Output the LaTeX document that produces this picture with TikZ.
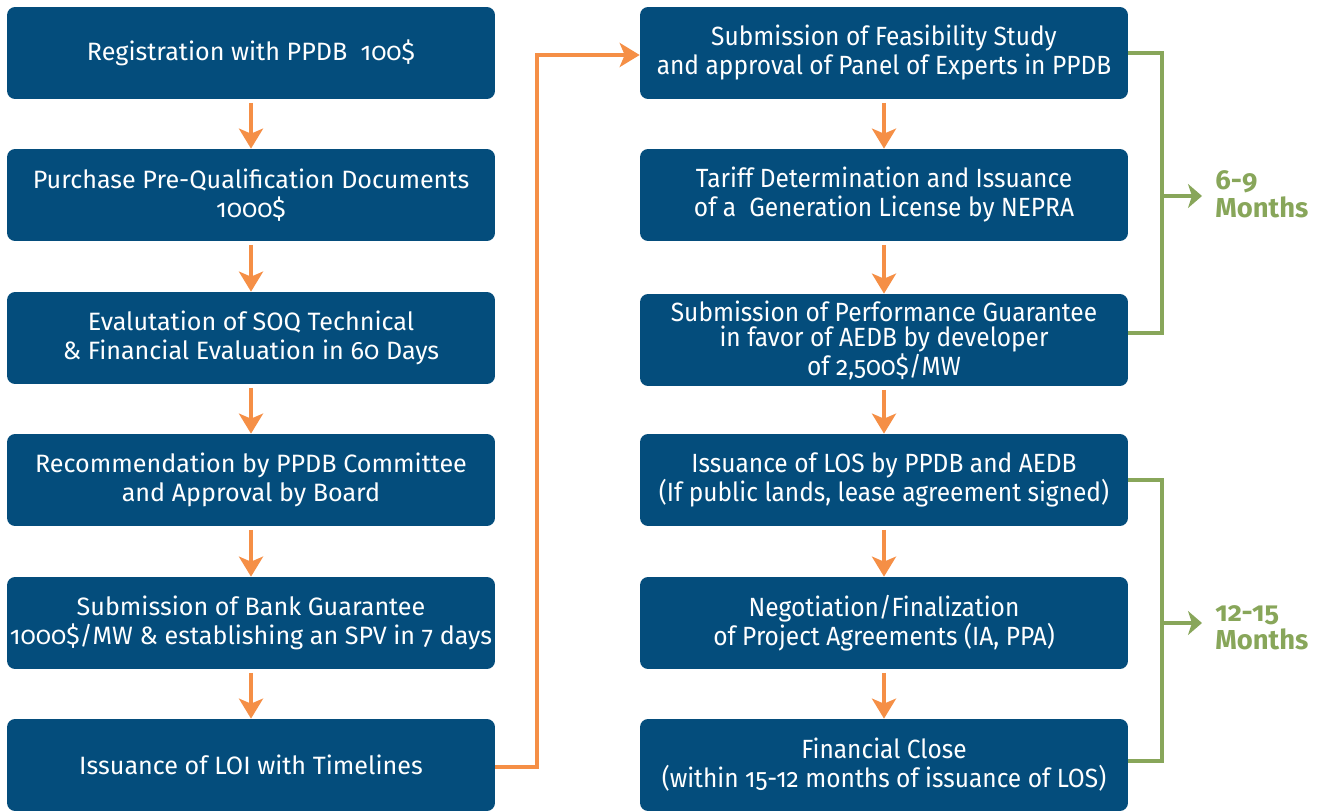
\documentclass[tikz,border=0pt]{standalone}
\usepackage{fontspec}
\setmainfont{Fira Sans}[Numbers=OldStyle]
\newfontfamily\condfont{Fira Sans}[Numbers=OldStyle,FakeStretch=0.93]
\usetikzlibrary{arrows.meta}
\definecolor{boxblue}{RGB}{4,77,124}
\definecolor{arrorange}{RGB}{245,143,70}
\definecolor{brgreen}{RGB}{136,166,90}
\tikzset{
  stepbox/.style={fill=boxblue, rounded corners=0.16cm, minimum width=9.76cm, minimum height=1.84cm,
    inner sep=0pt, text=white, align=center, font=\fontsize{14.3pt}{16.5pt}\selectfont},
  rbox/.style={stepbox, font=\condfont\fontsize{15pt}{16.5pt}\selectfont},
  oarrow/.style={draw=arrorange, line width=4pt*0.569, -{Stealth[length=20*0.569pt, width=24*0.569pt, inset=5*0.569pt]}, shorten <=2pt},
  gline/.style={draw=brgreen, line width=4pt*0.569},
  garrow/.style={draw=brgreen, line width=4pt*0.569, -{Stealth[length=14*0.569pt, width=24*0.569pt, inset=4*0.569pt]}},
  glabel/.style={text=brgreen, font=\bfseries\fontsize{15.6pt}{16pt}\selectfont, align=left, anchor=west, inner sep=0pt}
}
\begin{document}
\begin{tikzpicture}[x=0.02cm, y=-0.02cm]
\useasboundingbox (0,0) rectangle (1322,811);
% left column
\node[stepbox] (l1) at (251,53) {Registration with PPDB\ \ 100\$};
\node[stepbox] (l2) at (251,195) {Purchase Pre-Qualification Documents\\1000\$};
\node[stepbox] (l3) at (251,338) {Evalutation of SOQ Technical\\\& Financial Evaluation in 60 Days};
\node[stepbox] (l4) at (251,480) {Recommendation by PPDB Committee\\and Approval by Board};
\node[stepbox] (l5) at (251,623) {Submission of Bank Guarantee\\1000\$/MW \& establishing an SPV in 7 days};
\node[stepbox] (l6) at (251,765) {Issuance of LOI with Timelines};
% right column
\node[rbox] (r1) at (884,53) {Submission of Feasibility Study\\and approval of Panel of Experts in PPDB};
\node[rbox] (r2) at (884,195) {Tariff Determination and Issuance\\of a\ \ Generation License by NEPRA};
\node[rbox, font=\condfont\fontsize{15pt}{14.2pt}\selectfont] (r3) at (884,340) {Submission of Performance Guarantee\\in favor of AEDB by developer\\of 2,500\$/MW};
\node[rbox] (r4) at (884,480) {Issuance of LOS by PPDB and AEDB\\(If public lands, lease agreement signed)};
\node[rbox] (r5) at (884,623) {Negotiation/Finalization\\of Project Agreements (IA, PPA)};
\node[rbox] (r6) at (884,765) {Financial Close\\(within 15-12 months of issuance of LOS)};
% orange arrows
\foreach \a/\b in {l1/l2,l2/l3,l3/l4,l4/l5,l5/l6,r1/r2,r2/r3,r3/r4,r4/r5,r5/r6}
  \draw[oarrow] (\a.south) -- (\b.north);
\coordinate (c1) at (537,767);
\coordinate (c2) at (537,55);
\draw[oarrow, shorten <=0pt] (l6.east |- c1) -- (c1) -- (c2) -- (r1.west |- c2);
% green brackets
\coordinate (g1) at (1162,53);
\coordinate (g2) at (1162,333);
\coordinate (gm1) at (1162,196);
\coordinate (gt1) at (1202,196);
\draw[gline] (r1.east |- g1) -- (g1) -- (g2) -- (r3.east |- g2);
\draw[garrow] (gm1) -- (gt1);
\node[glabel] (lab1) at (1215,194) {6-9\\Months};
\coordinate (h1) at (1162,480);
\coordinate (h2) at (1162,761);
\coordinate (hm1) at (1162,623);
\coordinate (ht1) at (1202,623);
\draw[gline] (r4.east |- h1) -- (h1) -- (h2) -- (r6.east |- h2);
\draw[garrow] (hm1) -- (ht1);
\node[glabel] (lab2) at (1215,628) {12-15\\Months};
\end{tikzpicture}
\end{document}
